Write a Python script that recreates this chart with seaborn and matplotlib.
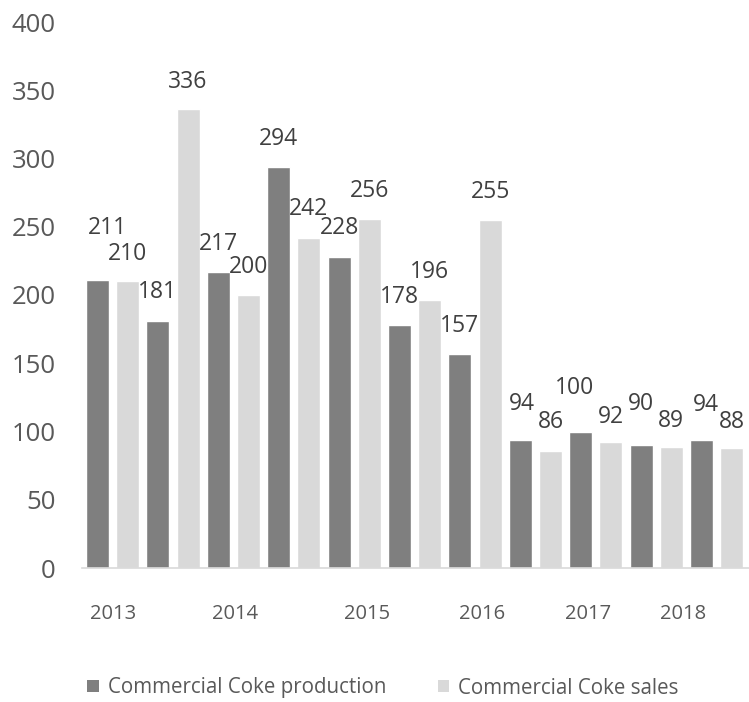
import matplotlib
matplotlib.use("Agg")
import matplotlib.pyplot as plt
import seaborn as sns
import pandas as pd
from matplotlib.patches import Patch

# ---- data ----
series_names = ["Commercial Coke production", "Commercial Coke sales"]
production = [211, 181, 217, 294, 228, 178, 157, 94, 100, 90, 94]
sales = [210, 336, 200, 242, 256, 196, 255, 86, 92, 89, 88]
year_labels = ["2013", "2014", "2015", "2016", "2017", "2018"]
y_ticks = [0, 50, 100, 150, 200, 250, 300, 350, 400]

# ---- layout (not data) ----
year_tick_pos = [0.51, 4.55, 8.92, 12.73, 16.24, 19.39]
prod_label_dy = [52, 29, 28, 28, 29, 28, 28, 36, 44, 41, 35]   # px above bar top
prod_label_dx = [10, 0, 0, 0, 0, 0, 0, 2, -6, 0, 4]
sales_label_dy = [27, 27, 28, 29, 28, 28, 28, 29, 25, 26, 26]
sales_label_dx = [0] * 11

dark = "#7f7f7f"
light = "#d9d9d9"

rows = []
for i, (p, s) in enumerate(zip(production, sales)):
    rows.append({"bar": 2 * i, "value": p, "series": series_names[0]})
    rows.append({"bar": 2 * i + 1, "value": s, "series": series_names[1]})
df = pd.DataFrame(rows)

sns.set_theme(style="white")
plt.rcParams["font.family"] = ["Open Sans", "DejaVu Sans"]

fig = plt.figure(figsize=(7.49, 7.02), dpi=100)
ax = fig.add_axes([82 / 749, 1 - 568 / 702, 1 - 82 / 749, (568 - 22) / 702])

sns.barplot(data=df, x="bar", y="value", hue="series", dodge=False,
            palette={series_names[0]: dark, series_names[1]: light},
            width=0.76, saturation=1, ax=ax, legend=False)

ax.set_xlim(-0.51, 21.57)
ax.set_ylim(0, 400)
ax.set_xlabel("")
ax.set_ylabel("")

px2pt = 72 / 100
for i, v in enumerate(production):
    ax.annotate(str(v), (2 * i, v), xytext=(prod_label_dx[i] * px2pt, prod_label_dy[i] * px2pt),
                textcoords="offset points", ha="center", va="center",
                fontsize=16.5, color="#404040")
for i, v in enumerate(sales):
    ax.annotate(str(v), (2 * i + 1, v), xytext=(sales_label_dx[i] * px2pt, sales_label_dy[i] * px2pt),
                textcoords="offset points", ha="center", va="center",
                fontsize=16.5, color="#404040")

ax.set_xticks(year_tick_pos)
ax.set_xticklabels(year_labels, fontsize=14.5, color="#595959")
ax.tick_params(axis="x", length=0, pad=26)

ax.set_yticks(y_ticks)
ax.set_yticklabels([str(t) for t in y_ticks], fontsize=18.5, color="#595959")
ax.tick_params(axis="y", length=0, pad=26 * px2pt)

for side in ["left", "right", "top"]:
    ax.spines[side].set_visible(False)
ax.spines["bottom"].set_color("#d9d9d9")
ax.spines["bottom"].set_linewidth(1.2)
ax.grid(False)

handles = [Patch(facecolor=dark, edgecolor="none"), Patch(facecolor=light, edgecolor="none")]
leg = fig.legend(handles, series_names, loc="center", ncol=2,
                 bbox_to_anchor=(383 / 749, 1 - 688 / 702), frameon=False,
                 fontsize=14.8, handlelength=0.55, handleheight=0.55,
                 handletextpad=0.45, columnspacing=2.5, borderpad=0)
for t in leg.get_texts():
    t.set_color("#595959")

fig.savefig("out.png", dpi=100)
